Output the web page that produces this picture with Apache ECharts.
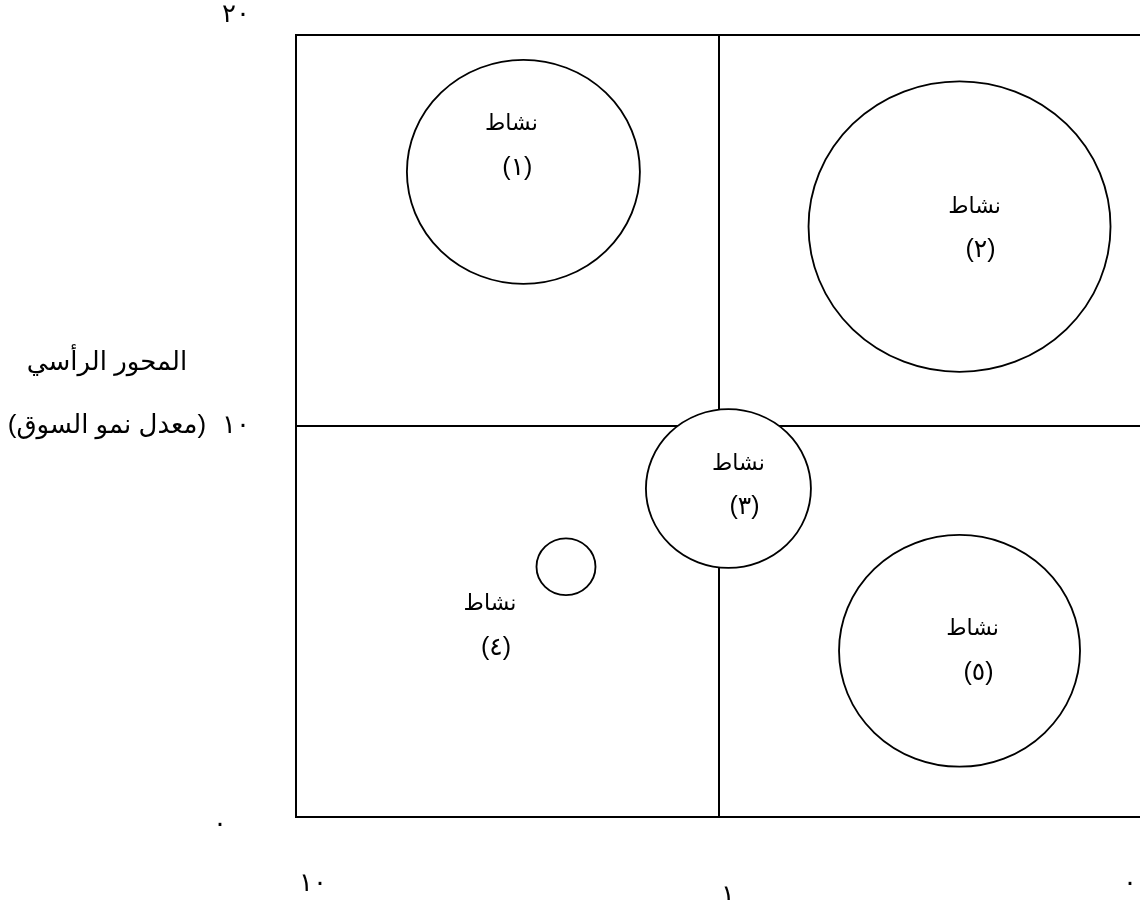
<!DOCTYPE html>
<html>
<head>
<meta charset="utf-8">
<title>مصفوفة الأنشطة</title>
<script src="https://cdn.jsdelivr.net/npm/echarts@6/dist/echarts.min.js"></script>
<style>
  html, body { margin: 0; padding: 0; background: #fff; }
  #chart { width: 1140px; height: 900px; }
</style>
</head>
<body>
<div id="chart"></div>
<script>
// بيانات الأنشطة
const activityNumbers = ['١', '٢', '٣', '٤', '٥'];
const marketShare = [2.9, 0.27, 0.95, 2.3, 0.27];     // المحور الأفقي (لوغاريتمي، معكوس)
const marketGrowth = [16.5, 15.1, 8.4, 6.4, 4.25];    // معدل نمو السوق
const bubbleSize = [233, 302, 165, 59, 241];

// التدريج
const xTickValues = [10, 1, 0.1];
const xTickLabels = ['١٠', '١', '٠'];
const yTickValues = [0, 10, 20];
const yTickLabels = ['٠', '١٠', '٢٠'];

const FONT = '"Liberation Sans", "DejaVu Sans", sans-serif';
const AXIS_FS = 26;
const BUBBLE_FS = 22;
const ASPECT = 1.04;
const labelOffsets = [[-12, -26], [15, 2], [10, -3], [-76, 59], [13, 0]];
const xRich = ['x0', 'x1', 'x2'];
const yRich = ['y0', 'y1', 'y2'];

const chart = echarts.init(document.getElementById('chart'));

const txt = (extra) => Object.assign({ fontFamily: FONT, fontSize: AXIS_FS, color: '#000' }, extra);

const option = {
  animation: false,
  backgroundColor: '#fff',
  grid: {
    left: 296,
    width: 846,   // الحد الأيمن يقع خارج الصورة
    top: 35,
    height: 782,
    outerBoundsMode: 'none',
    containLabel: false,
    show: true,
    borderColor: '#000',
    borderWidth: 2
  },
  xAxis: {
    type: 'log',
    logBase: 10,
    min: 0.1,
    max: 10,
    inverse: true,
    axisLine: { show: false },
    axisTick: { show: false },
    splitLine: { lineStyle: { color: '#000', width: 2 } },
    axisLabel: {
      margin: 54,
      showMinLabel: true,
      showMaxLabel: true,
      color: '#000',
      fontFamily: FONT,
      fontSize: AXIS_FS,
      formatter: (v) => {
        const i = xTickValues.findIndex(t => Math.abs(Math.log10(t) - Math.log10(v)) < 1e-6);
        return i < 0 ? '' : '{' + xRich[i] + '|' + xTickLabels[i] + '}';
      },
      rich: {
        x0: txt({ padding: [0, 0, 0, 34] }),
        x1: txt({ padding: [12, 0, 0, 18] }),
        x2: txt({ padding: [0, 24, 0, 0] })
      }
    }
  },
  yAxis: {
    type: 'value',
    min: 0,
    max: 20,
    interval: 10,
    name: 'المحور الرأسي\n(معدل نمو السوق)\n ',
    nameLocation: 'middle',
    nameRotate: 0,
    nameGap: 189,
    nameTextStyle: {
      color: '#000',
      fontFamily: FONT,
      fontSize: 26,
      align: 'center',
      lineHeight: 63
    },
    axisLine: { show: false },
    axisTick: { show: false },
    splitLine: { lineStyle: { color: '#000', width: 2 } },
    axisLabel: {
      margin: 46,
      color: '#000',
      fontFamily: FONT,
      fontSize: AXIS_FS,
      formatter: (v) => {
        const i = yTickValues.indexOf(v);
        return i < 0 ? '' : '{' + yRich[i] + '|' + yTickLabels[i] + '}';
      },
      rich: {
        y0: txt({ padding: [16, 23, 0, 0] }),
        y1: txt({}),
        y2: txt({ padding: [0, 0, 40, 0] })
      }
    }
  },
  series: [{
    type: 'scatter',
    data: marketShare.map((x, i) => ({
      value: [x, marketGrowth[i]],
      symbolSize: [bubbleSize[i], bubbleSize[i] / ASPECT],
      label: { offset: labelOffsets[i] }
    })),
    symbol: 'circle',
    itemStyle: { color: '#fff', borderColor: '#000', borderWidth: 1.8, opacity: 1 },
    label: {
      show: true,
      position: 'inside',
      color: '#000',
      fontFamily: FONT,
      fontSize: BUBBLE_FS,
      lineHeight: 44,
      formatter: (p) => '{a|نشاط}\n{b|(' + activityNumbers[p.dataIndex] + ')}',
      rich: {
        a: { fontFamily: FONT, fontSize: BUBBLE_FS, color: '#000', lineHeight: 44 },
        b: { fontFamily: FONT, fontSize: 25, color: '#000', lineHeight: 44, padding: [0, 0, 0, 12] }
      }
    },
    emphasis: { disabled: true }
  }]
};

chart.setOption(option);
</script>
</body>
</html>
